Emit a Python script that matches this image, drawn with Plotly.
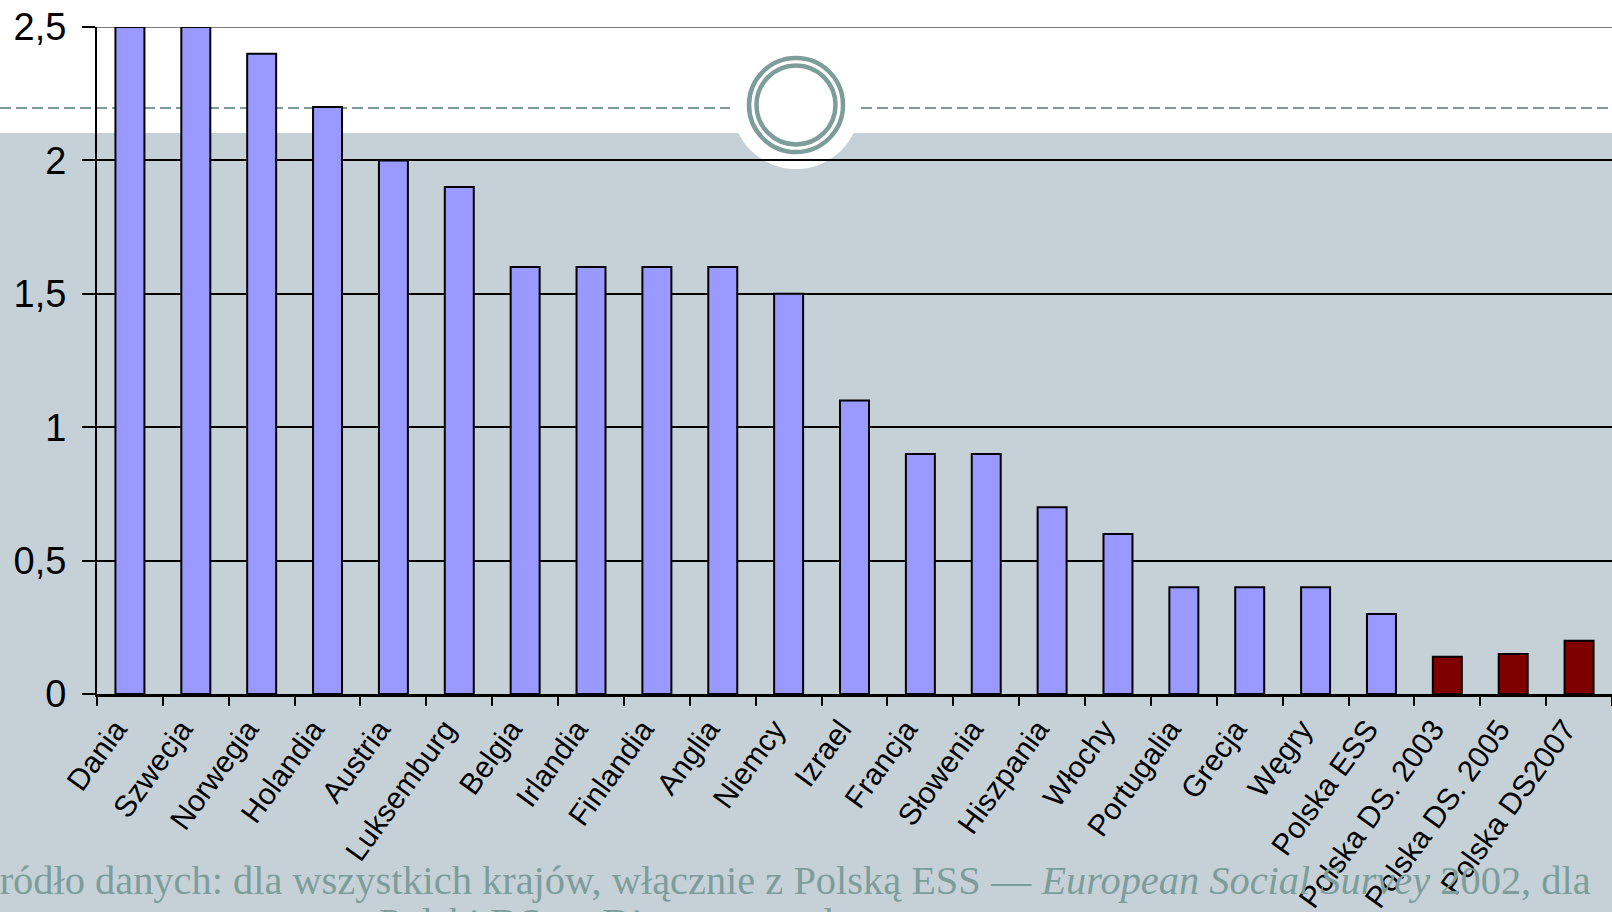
import plotly.graph_objects as go

categories = ["Dania", "Szwecja", "Norwegia", "Holandia", "Austria", "Luksemburg",
              "Belgia", "Irlandia", "Finlandia", "Anglia", "Niemcy", "Izrael",
              "Francja", "Słowenia", "Hiszpania", "Włochy", "Portugalia", "Grecja",
              "Węgry", "Polska ESS", "Polska DS. 2003", "Polska DS. 2005", "Polska DS2007"]
values = [2.5, 2.5, 2.4, 2.2, 2.0, 1.9, 1.6, 1.6, 1.6, 1.6, 1.5, 1.1,
          0.9, 0.9, 0.7, 0.6, 0.4, 0.4, 0.4, 0.3, 0.14, 0.15, 0.2]
groups = ["ESS"] * 20 + ["DS"] * 3
y_ticks = [0, 0.5, 1, 1.5, 2, 2.5]

note_line1 = ("Źródło danych: dla wszystkich krajów, włącznie z Polską ESS — "
              "<i>European Social Survey</i> 2002, dla")
note_line2 = "Polski DS — Diagnoza społeczna"

W, H = 1612, 912
L, R, T, B = 97, 1612, 27, 694

def px(x):
    return (x - L) / (R - L)

def py(y):
    return (B - y) / (B - T)

colors = {"ESS": "#9999FF", "DS": "#800000"}
bar_colors = [colors[g] for g in groups]

fig = go.Figure()
fig.add_trace(go.Bar(
    x=categories, y=values,
    marker=dict(color=bar_colors, line=dict(color="black", width=2)),
    width=0.44, showlegend=False, hoverinfo="x+y",
))

accent = "#7D9D9B"
shapes = [
    dict(type="rect", xref="paper", yref="paper", x0=px(-5), x1=px(W + 5), y0=py(-5), y1=py(133),
         fillcolor="white", line=dict(width=0), layer="below"),
    dict(type="circle", xref="paper", yref="paper", xsizemode="pixel", ysizemode="pixel",
         xanchor=px(796), yanchor=py(105), x0=-64, x1=64, y0=-64, y1=64,
         fillcolor="white", line=dict(width=0), layer="below"),
    dict(type="line", xref="paper", yref="paper", x0=px(0), x1=px(730), y0=py(108), y1=py(108),
         line=dict(color=accent, width=2, dash="11px,5px"), layer="below"),
    dict(type="line", xref="paper", yref="paper", x0=px(861), x1=px(W), y0=py(108), y1=py(108),
         line=dict(color=accent, width=2, dash="11px,5px"), layer="below"),
    dict(type="circle", xref="paper", yref="paper", xsizemode="pixel", ysizemode="pixel",
         xanchor=px(796), yanchor=py(105), x0=-47, x1=47, y0=-47, y1=47,
         line=dict(color=accent, width=4.5), layer="below"),
    dict(type="circle", xref="paper", yref="paper", xsizemode="pixel", ysizemode="pixel",
         xanchor=px(796), yanchor=py(105), x0=-39.5, x1=39.5, y0=-39.5, y1=39.5,
         line=dict(color=accent, width=4.5), layer="below"),
    dict(type="line", xref="paper", yref="y", x0=0, x1=1, y0=2.5, y1=2.5,
         line=dict(color="#7a7a7a", width=2), layer="between"),
]

note_font = dict(family="Liberation Serif, Times New Roman, serif", size=40.4, color=accent)
annotations = [
    dict(xref="paper", yref="paper", x=px(-27), y=py(905), xanchor="left", yanchor="bottom",
         text=note_line1, showarrow=False, font=note_font),
    dict(xref="paper", yref="paper", x=px(377), y=py(947), xanchor="left", yanchor="bottom",
         text=note_line2, showarrow=False, font=note_font),
]

fig.update_layout(
    width=W, height=H,
    margin=dict(l=L, r=W - R, t=T, b=H - B, pad=0),
    paper_bgcolor="#C6D1D7",
    plot_bgcolor="rgba(0,0,0,0)",
    separators=", ",
    shapes=shapes,
    annotations=annotations,
    font=dict(family="Liberation Sans, Arial, sans-serif", color="black"),
    xaxis=dict(
        type="category", range=[-0.5, len(categories) - 0.5], automargin=False,
        tickangle=-54, tickfont=dict(size=30),
        ticks="outside", tickson="boundaries", ticklen=9, tickwidth=2, tickcolor="black",
        ticklabelstandoff=3, ticklabelshift=-14,
        showline=True, linecolor="black", linewidth=2.5, showgrid=False,
    ),
    yaxis=dict(
        range=[0, 2.5], tickvals=y_ticks, tickfont=dict(size=38), automargin=False,
        ticks="outside", ticklen=13, tickwidth=2, tickcolor="black",
        ticklabelstandoff=8,
        showline=True, linecolor="black", linewidth=2,
        showgrid=True, gridcolor="black", gridwidth=2, zeroline=False,
    ),
)

fig.write_html("out.html", config={"displayModeBar": False},
               post_script="document.body.style.margin='0px';document.body.style.overflow='hidden';")
